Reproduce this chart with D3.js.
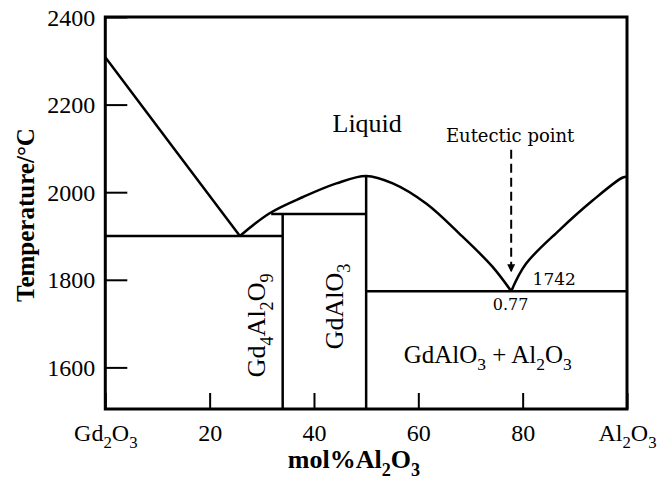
<!DOCTYPE html>
<html>
<head>
<meta charset="utf-8">
<script src="https://cdn.jsdelivr.net/npm/d3@7"></script>
<style>
  body { margin: 0; background: #fff; }
  svg text { font-family: "Liberation Serif", "Times New Roman", serif; fill: #000; }
  svg text.note { font-family: "DejaVu Serif", serif; }
</style>
</head>
<body>
<div id="chart"></div>
<script>
// data (mol% Al2O3, temperature in C)
var liquidusLeft  = [[0, 2308], [12.9, 2104], [25.8, 1900]];
var dome          = [[25.8, 1900], [31.5, 1952], [37.9, 1989], [44.3, 2020], [50, 2037],
                     [55.1, 2020], [61.5, 1974], [67.9, 1905], [74.2, 1830], [77.8, 1774]];
var liquidusRight = [[77.8, 1774], [80.6, 1836], [87, 1913], [93.4, 1981], [99.1, 2033], [100, 2035]];
var solidLines    = [ // [x1, T1, x2, T2]
  [0, 1900, 34, 1900],
  [34, 1505, 34, 1950],
  [31.8, 1950, 50, 1950],
  [50, 1505, 50, 2037],
  [50, 1774, 100, 1774]
];
var yTicks = [1600, 1800, 2000, 2200, 2400];
var xTicks = [0, 20, 40, 60, 80, 100];
var xTickLabels = { 0: "Gd_2O_3", 100: "Al_2O_3" };

var width = 671, height = 481;

var svg = d3.select('#chart').append('svg')
    .attr('width', width)
    .attr('height', height);

var x = d3.scaleLinear().domain([0, 100]).range([105.3, 627]);
var y = d3.scaleLinear().domain([1505, 2400]).range([409, 17]);

// writes "Gd_2O_3" style strings with subscripts
function chem(sel, str, fs) {
    sel.text(null);
    var tokens = str.match(/_\d|[^_]+/g);
    var down = false;
    tokens.forEach(function (t) {
        if (t[0] === '_') {
            sel.append('tspan').attr('dy', fs * 0.3).attr('font-size', fs * 0.7).text(t.slice(1));
            down = true;
        } else {
            sel.append('tspan').attr('dy', down ? -fs * 0.3 : 0).text(t);
            down = false;
        }
    });
}

// axes (ticks point inward)
var yAxis = svg.append('g')
    .attr('transform', 'translate(' + x(0) + ',0)')
    .call(d3.axisLeft(y).tickValues(yTicks).tickSize(-22).tickPadding(10).tickFormat(d3.format('d')));
var xAxis = svg.append('g')
    .attr('transform', 'translate(0,' + y(1505) + ')')
    .call(d3.axisBottom(x).tickValues(xTicks).tickSize(-16).tickPadding(32).tickFormat(d3.format('d')));

[yAxis, xAxis].forEach(function (a) {
    a.select('.domain').remove();
    a.selectAll('line').attr('stroke', '#000').attr('stroke-width', 2);
    a.selectAll('text').attr('font-family', '"Liberation Serif", serif').attr('fill', '#000');
});
yAxis.selectAll('text').attr('font-size', 24).attr('dy', '0.34em');
xAxis.selectAll('text').attr('font-size', 24).attr('dy', 0)
    .each(function (d) {
        if (xTickLabels[d]) chem(d3.select(this), xTickLabels[d], 24);
    });

// frame
svg.append('rect')
    .attr('x', x(0)).attr('y', y(2400))
    .attr('width', x(100) - x(0)).attr('height', y(1505) - y(2400))
    .attr('fill', 'none').attr('stroke', '#000').attr('stroke-width', 3);

// phase boundaries
var line = d3.line().x(d => x(d[0])).y(d => y(d[1]));
svg.append('path').datum(liquidusLeft)
    .attr('d', line).attr('fill', 'none').attr('stroke', '#000').attr('stroke-width', 2.5);
svg.append('path').datum(dome)
    .attr('d', line.curve(d3.curveCatmullRom)).attr('fill', 'none').attr('stroke', '#000').attr('stroke-width', 2.5);
svg.append('path').datum(liquidusRight)
    .attr('d', line.curve(d3.curveCatmullRom)).attr('fill', 'none').attr('stroke', '#000').attr('stroke-width', 2.5);

svg.selectAll('.solid').data(solidLines).enter().append('line')
    .attr('class', 'solid')
    .attr('x1', d => x(d[0])).attr('y1', d => y(d[1]))
    .attr('x2', d => x(d[2])).attr('y2', d => y(d[3]))
    .attr('stroke', '#000').attr('stroke-width', 2.5);

// eutectic arrow
svg.append('defs').append('marker')
    .attr('id', 'arrow').attr('viewBox', '0 0 10 10')
    .attr('refX', 10).attr('refY', 5)
    .attr('markerWidth', 4).attr('markerHeight', 4.5)
    .attr('markerUnits', 'strokeWidth')
    .attr('orient', 'auto')
    .append('path').attr('d', 'M0,0 L10,5 L0,10 Z').attr('fill', '#000');
svg.append('line')
    .attr('x1', x(77.8)).attr('y1', y(2097))
    .attr('x2', x(77.8)).attr('y2', y(1817))
    .attr('stroke', '#000').attr('stroke-width', 2)
    .attr('stroke-dasharray', '9,5')
    .attr('marker-end', 'url(#arrow)');

// labels
svg.append('text').attr('x', x(50.2)).attr('y', y(2138))
    .attr('text-anchor', 'middle').attr('font-size', 26).text('Liquid');
svg.append('text').attr('class', 'note').attr('x', x(77.6)).attr('y', y(2115))
    .attr('text-anchor', 'middle').attr('font-size', 18).text('Eutectic point');
svg.append('text').attr('class', 'note').attr('x', x(81.9)).attr('y', y(1789))
    .attr('font-size', 17).text('1742');
svg.append('text').attr('class', 'note').attr('x', x(77.7)).attr('y', y(1730))
    .attr('text-anchor', 'middle').attr('font-size', 16).text('0.77');
svg.append('text').attr('x', x(73.3)).attr('y', y(1611))
    .attr('text-anchor', 'middle').attr('font-size', 25)
    .call(chem, 'GdAlO_3 + Al_2O_3', 25);
svg.append('text')
    .attr('transform', 'translate(' + x(30.6) + ',' + y(1696) + ') rotate(-90)')
    .attr('text-anchor', 'middle').attr('font-size', 26)
    .call(chem, 'Gd_4Al_2O_9', 26);
svg.append('text')
    .attr('transform', 'translate(' + x(45.5) + ',' + y(1739) + ') rotate(-90)')
    .attr('text-anchor', 'middle').attr('font-size', 26)
    .call(chem, 'GdAlO_3', 26);

// axis titles
svg.append('text')
    .attr('transform', 'translate(34,215) rotate(-90)')
    .attr('text-anchor', 'middle').attr('font-size', 25).attr('font-weight', 'bold')
    .text('Temperature/\u00B0C');
svg.append('text').attr('x', 354).attr('y', 468)
    .attr('text-anchor', 'middle').attr('font-size', 26).attr('font-weight', 'bold')
    .call(chem, 'mol%Al_2O_3', 26);
</script>
</body>
</html>
